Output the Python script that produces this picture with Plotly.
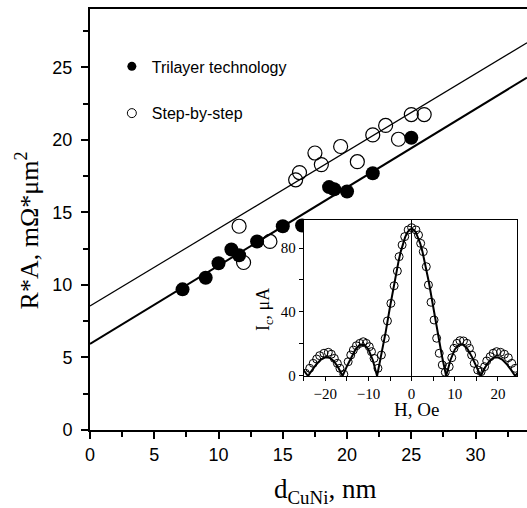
import plotly.graph_objects as go

# ---- main panel data ----
tri_x = [7.2, 9.0, 10.0, 11.0, 11.6, 13.0, 15.0, 16.5, 18.6, 19.0, 20.0, 22.0, 25.0]
tri_y = [9.7, 10.5, 11.5, 12.45, 12.05, 13.0, 14.05, 14.1, 16.75, 16.6, 16.45, 17.7, 20.15]

sbs_x = [11.6, 11.95, 14.0, 16.0, 16.3, 17.5, 18.0, 19.5, 20.8, 22.0, 23.0, 24.0, 25.0, 26.0]
sbs_y = [14.05, 11.55, 13.0, 17.25, 17.75, 19.1, 18.3, 19.55, 18.5, 20.35, 21.0, 20.05, 21.75, 21.75]

fit_x = [0, 34]
tri_fit_y = [5.93, 24.3]
sbs_fit_y = [8.55, 26.7]

# ---- inset data ----
ic_h = [-24.6, -23.6, -22.8, -22.0, -21.3, -20.3, -19.3, -18.6, -17.9, -17.2, -16.6, -15.7,
        -14.7, -14.1, -13.5, -12.8, -12.0, -11.2, -10.5, -9.8, -9.3, -8.7, -7.8, -7.0, -6.1,
        -5.6, -4.8, -4.05, -3.3, -2.9, -2.2, -1.6, -0.8, 0.0, 1.0, 1.6, 2.1, 2.7, 3.4, 3.9,
        4.5, 5.2, 5.8, 6.4, 7.1, 7.8, 8.7, 9.3, 9.8, 10.5, 11.2, 12.0, 12.8, 13.4, 13.9, 14.5,
        15.3, 16.1, 16.9, 17.4, 18.2, 18.9, 19.7, 20.6, 21.5, 22.4, 23.2, 24.0]
ic_i = [1.7, 4.8, 7.9, 10.6, 12.7, 14.2, 14.8, 13.6, 11.0, 7.9, 4.8, 1.1,
        8.9, 13.1, 16.2, 18.9, 20.4, 21.4, 20.4, 18.3, 15.2, 11.0, 4.8, 13.1, 23.5,
        34.4, 45.4, 56.4, 65.6, 74.6, 81.9, 87.1, 91.3, 92.7, 91.3, 88.1, 82.9, 77.7, 68.3, 56.9,
        46.1, 35.0, 23.6, 14.2, 6.9, 2.3, 5.8, 11.4, 17.3, 20.4, 22.1, 21.9, 20.4, 17.3, 13.1, 7.9,
        3.75, 2.7, 5.8, 9.4, 12.1, 14.2, 15.2, 14.8, 13.6, 11.4, 7.9, 4.8]

fit_h = [-25, -24, -23, -22, -21, -20, -19, -18, -17, -16, -15, -14, -13, -12, -11, -10, -9, -8,
         -7, -6, -5, -4, -3.5, -3, -2.5, -2, -1.5, -1, -0.5, 0, 0.5, 1, 1.5, 2, 2.5, 3, 3.5, 4,
         5, 6, 7, 8, 9, 10, 11, 12, 13, 14, 15, 16, 17, 18, 19, 20, 21, 22, 23, 24, 24.5]
fit_i = [3.6, 0, 3.9, 7.5, 10.3, 11.7, 11.4, 9.2, 5.3, 0, 6.0, 11.8, 16.6, 19.5, 19.7, 16.6, 10.0, 0,
         12.8, 27.6, 43.3, 58.6, 65.7, 72.1, 77.9, 82.8, 86.8, 89.7, 91.4, 92.0, 91.4, 89.7, 86.8, 82.8, 77.9, 72.1, 65.7, 58.6,
         43.3, 27.6, 12.8, 0, 10.0, 16.6, 19.7, 19.5, 16.6, 11.8, 6.0, 0, 5.3, 9.2, 11.4, 11.7, 10.3, 7.5, 3.9, 0, 1.8]

SANS = "Liberation Sans, Arial, sans-serif"
SERIF = "Liberation Serif, Times New Roman, serif"

fig = go.Figure()

fig.add_trace(go.Scatter(x=fit_x, y=sbs_fit_y, mode="lines", line=dict(color="black", width=1.2),
                         showlegend=False, hoverinfo="skip"))
fig.add_trace(go.Scatter(x=fit_x, y=tri_fit_y, mode="lines", line=dict(color="black", width=2),
                         showlegend=False, hoverinfo="skip"))
fig.add_trace(go.Scatter(x=sbs_x, y=sbs_y, mode="markers", showlegend=False,
                         marker=dict(symbol="circle-open", size=14, color="black", line=dict(width=1.2))))
fig.add_trace(go.Scatter(x=tri_x, y=tri_y, mode="markers", showlegend=False,
                         marker=dict(symbol="circle", size=14, color="black")))

# legend-only entries
fig.add_trace(go.Scatter(x=[None], y=[None], mode="markers", name="Trilayer technology",
                         legendgroup="a", marker=dict(symbol="circle", size=9, color="black")))
fig.add_trace(go.Scatter(x=[None], y=[None], mode="markers", name="Step-by-step",
                         legendgroup="b", marker=dict(symbol="circle-open", size=9, color="black",
                                                      line=dict(width=1))))

# inset
fig.add_trace(go.Scatter(x=fit_h, y=fit_i, mode="lines", xaxis="x2", yaxis="y2",
                         line=dict(color="black", width=2), showlegend=False, hoverinfo="skip"))
fig.add_trace(go.Scatter(x=ic_h, y=ic_i, mode="markers", xaxis="x2", yaxis="y2", showlegend=False,
                         marker=dict(symbol="circle-open", size=8, color="black", line=dict(width=1))))

axis_common = dict(showgrid=False, zeroline=False, linecolor="black", tickcolor="black")

fig.update_layout(
    width=527, height=508,
    margin=dict(l=90, r=0, t=9, b=78),
    paper_bgcolor="white", plot_bgcolor="white",
    showlegend=True,
    legend=dict(x=0.05, y=0.904, xanchor="left", yanchor="top", bgcolor="rgba(0,0,0,0)",
                font=dict(family=SANS, size=16, color="black"), tracegroupgap=23),
    xaxis=dict(**axis_common, range=[0, 34], domain=[0, 1], linewidth=2, mirror=True,
               ticks="outside", ticklen=7, tickwidth=1.5, dtick=5, tick0=0,
               minor=dict(dtick=2.5, ticks="outside", ticklen=5, tickwidth=1.5, tickcolor="black"),
               tickfont=dict(family=SANS, size=18, color="black")),
    yaxis=dict(**axis_common, range=[0, 29.03], domain=[0, 1], linewidth=2,
               ticks="outside", ticklen=7, tickwidth=1.5, dtick=5, tick0=0, ticklabelstandoff=5,
               minor=dict(dtick=2.5, ticks="outside", ticklen=5, tickwidth=1.5, tickcolor="black"),
               tickfont=dict(family=SANS, size=18, color="black")),
    xaxis2=dict(showgrid=False, linecolor="black", tickcolor="black", anchor="y2",
                domain=[0.489, 0.978], range=[-25, 24.5], linewidth=1, mirror=True,
                zeroline=True, zerolinecolor="black", zerolinewidth=1,
                ticks="outside", ticklen=4, tickwidth=1, dtick=10, tick0=0,
                minor=dict(dtick=5, ticks="outside", ticklen=4, tickwidth=1, tickcolor="black"),
                tickfont=dict(family=SERIF, size=15, color="black")),
    yaxis2=dict(showgrid=False, zeroline=False, linecolor="black", tickcolor="black", anchor="x2",
                domain=[0.1283, 0.4988], range=[0, 97.5], linewidth=1, mirror=True,
                ticks="outside", ticklen=4, tickwidth=1, dtick=40, tick0=0,
                minor=dict(dtick=20, ticks="outside", ticklen=4, tickwidth=1, tickcolor="black"),
                tickfont=dict(family=SERIF, size=15, color="black")),
    annotations=[
        dict(text="R*A, mΩ*μm<sup>2</sup>", xref="paper", yref="paper", x=-0.143, y=0.473,
             textangle=-90, showarrow=False, xanchor="center", yanchor="middle",
             font=dict(family=SERIF, size=26, color="black")),
        dict(text="d<sub>CuNi</sub>, nm", xref="paper", yref="paper", x=0.537, y=-0.146,
             showarrow=False, xanchor="center", yanchor="middle",
             font=dict(family=SERIF, size=27, color="black")),
        dict(text="I<sub>c</sub>, μA", xref="paper", yref="paper", x=(264 - 90) / 437, y=(430 - 310) / 421,
             textangle=-90, showarrow=False, xanchor="center", yanchor="middle",
             font=dict(family=SERIF, size=18, color="black")),
        dict(text="H, Oe", xref="paper", yref="paper", x=(416 - 90) / 437, y=(430 - 409) / 421,
             showarrow=False, xanchor="center", yanchor="middle",
             font=dict(family=SERIF, size=19, color="black")),
    ],
)

fig.write_html("out.html", config={"displayModeBar": False},
               post_script="document.body.style.margin='0px';document.body.style.overflow='hidden';")
